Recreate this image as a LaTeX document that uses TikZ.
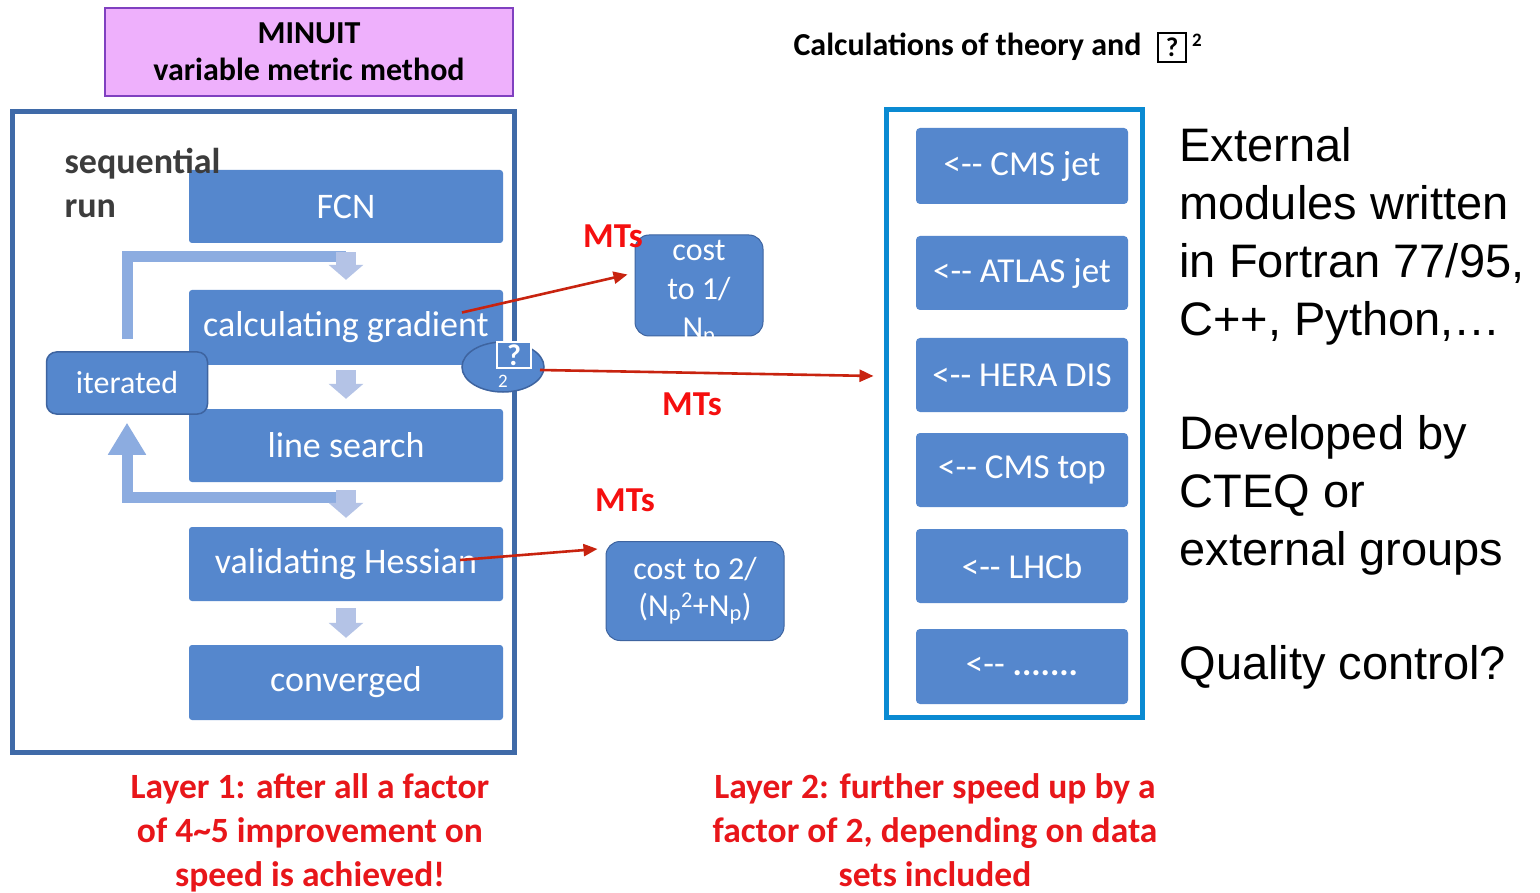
\documentclass[tikz,border=0pt]{standalone}
\usepackage{fontspec}
\setmainfont{Carlito}
\newfontfamily\arialfont{Liberation Sans}
\usetikzlibrary{arrows.meta,shapes.geometric}
\definecolor{boxblue}{RGB}{85,135,205}
\definecolor{boxedge}{RGB}{62,100,160}
\definecolor{frameblue}{RGB}{63,106,168}
\definecolor{rframec}{RGB}{10,138,210}
\definecolor{lav}{RGB}{180,195,230}
\definecolor{loopc}{RGB}{140,172,224}
\definecolor{darkred}{RGB}{200,35,15}
\definecolor{brightred}{RGB}{232,22,26}
\definecolor{mtred}{RGB}{245,15,15}
\definecolor{violetfill}{RGB}{238,176,252}
\definecolor{violetedge}{RGB}{128,64,192}
\definecolor{seqgray}{RGB}{60,60,60}
\newcommand\myfs[2]{\fontsize{#1}{#2}\selectfont}
\begin{document}
\begin{tikzpicture}[x=1pt,y=-1pt,
  mainbox/.style={fill=boxblue, rounded corners=3pt, minimum width=314pt, text=white, font=\myfs{36}{43}, inner sep=0pt},
  rbox/.style={fill=boxblue, rounded corners=4pt, minimum width=212pt, text=white, font=\myfs{35}{40}, inner sep=0pt},
  costbox/.style={fill=boxblue, draw=boxedge, line width=1pt, rounded corners=14pt, inner sep=0pt},
  fatarrow/.style={draw=lav, line width=20pt, -{Triangle[width=34pt,length=15pt]}},
  loopbar/.style={draw=loopc, line width=11pt},
  redarrow/.style={draw=darkred, line width=2.6pt, -{Triangle[width=12pt,length=14pt]}},
  mts/.style={text=mtred, font=\bfseries\myfs{35}{40}},
  layer/.style={text=brightred, font=\bfseries\myfs{35.5}{44}, align=center},
  side/.style={anchor=west, align=left, font=\arialfont\myfs{47}{58}}
]
\useasboundingbox (0,0) rectangle (1540,893);
\fill[white] (0,0) rectangle (1540,893);

% MINUIT box
\node[fill=violetfill, draw=violetedge, line width=1.5pt, minimum width=408pt, minimum height=88pt,
      align=center, font=\bfseries\myfs{32}{37}] (minuit) at (309,52) {MINUIT\\variable metric method};

% left frame
\node[draw=frameblue, line width=5pt, minimum width=502pt, minimum height=640pt, inner sep=0pt] (lframe) at (263,432) {};

% main boxes
\node[mainbox, minimum height=73pt] (fcn) at (346,206.5) {FCN};
\node[mainbox, minimum height=75pt] (calc) at (346,327.5) {calculating gradient};
\node[mainbox, minimum height=73pt] (line) at (346,445.5) {line search};
\node[mainbox, minimum height=74pt] (valid) at (346,564) {validating Hessian};
\node[mainbox, minimum height=75pt] (conv) at (346,682.5) {converged};

\node[anchor=west, align=left, text=seqgray, font=\bfseries\myfs{36}{44}] (seq) at (61,183) {sequential\\run};

% iterated box
\node[fill=boxblue, draw=boxedge, line width=1.5pt, rounded corners=10pt, minimum width=161pt,
      minimum height=62pt, text=white, font=\myfs{32}{38}, inner sep=0pt] (iter) at (127,383) {iterated};

% loop bars
\coordinate (ltop) at (346,257);
\coordinate (lbot) at (346,497);
\draw[loopbar] ([yshift=12pt]iter.north) |- (ltop);
\draw[loopbar, -{Triangle[width=36pt,length=32pt]}] (lbot) -| ([yshift=-8pt]iter.south);

% small down arrows
\draw[fatarrow] ([yshift=-9pt]fcn.south) -- ([yshift=10pt]calc.north);
\draw[fatarrow] ([yshift=-5pt]calc.south) -- ([yshift=10pt]line.north);
\draw[fatarrow] ([yshift=-8pt]line.south) -- ([yshift=9pt]valid.north);
\draw[fatarrow] ([yshift=-7pt]valid.south) -- ([yshift=7pt]conv.north);

% ellipse icon
\node[ellipse, fill=boxblue, draw=boxedge, line width=1.5pt, minimum width=82pt, minimum height=50pt] (qm) at (503,367) {};
\node[draw=white, line width=2pt, fill=boxblue, minimum width=34pt, minimum height=26pt, inner sep=0pt, text=white,
      font=\bfseries\myfs{30}{30}] (qbox) at (514,355.5) {?};
\node[text=white, font=\myfs{19}{20}, inner sep=0pt] (qtwo) at (503,381) {2};

% cost boxes
\node[costbox, minimum width=128pt, minimum height=101pt] (cost1) at (699,285.5) {};
\begin{scope}
\clip[rounded corners=14pt] (cost1.south west) rectangle (cost1.north east);
\node[text=white, font=\myfs{32}{39}, align=center] (cost1t) at (699,293) {cost\\to 1/\\N\textsubscript{p}};
\end{scope}
\node[costbox, minimum width=178pt, minimum height=99pt, text=white, font=\myfs{32}{37}, align=center]
   (cost2) at (695,591) {cost to 2/\\(N\textsubscript{p}\textsuperscript{2}+N\textsubscript{p})};

% right frame
\node[draw=rframec, line width=5pt, minimum width=256pt, minimum height=607pt, inner sep=0pt] (rframe) at (1014,413.5) {};
\node[rbox, minimum height=76pt] (r1) at (1022,166) {<-{}- CMS jet};
\node[rbox, minimum height=74pt] (r2) at (1022,273) {<-{}- ATLAS jet};
\node[rbox, minimum height=74pt] (r3) at (1022,375) {<-{}- HERA DIS};
\node[rbox, minimum height=74pt] (r4) at (1022,470) {<-{}- CMS top};
\node[rbox, minimum height=74pt] (r5) at (1022,566) {<-{}- LHCb};
\node[rbox, minimum height=75pt] (r6) at (1022,666.5) {<-{}- \textbf{.......}};

% red arrows
\draw[redarrow] ([shift={(116,-15)}]calc.center) -- ([shift={(-7,-11)}]cost1.west);
\draw[redarrow] ([shift={(37,3)}]qm.center) -- ([shift={(-10,-37.5)}]rframe.west);
\draw[redarrow] ([shift={(114,-4)}]valid.center) -- ([shift={(-8,-42)}]cost2.west);

% MTs labels
\node[mts] (mt1) at (613,236) {MTs};
\node[mts] (mt2) at (692,404) {MTs};
\node[mts] (mt3) at (625,500) {MTs};

% title
\node[anchor=west, font=\bfseries\myfs{32}{37}] (title) at (790,47) {Calculations of theory and};
\node[draw, line width=2.2pt, minimum width=28pt, minimum height=29pt, inner sep=0pt,
      font=\bfseries\myfs{27}{28}] (qt) at (1172,47.5) {?};
\node[font=\bfseries\myfs{19}{20}, inner sep=0pt] (qt2) at (1197,40) {2};

% side text
\node[side] (ext) at (1176,236) {External\\modules written\\in Fortran 77/95,\\C++, Python,\dots};
\node[side] (dev) at (1176,495) {Developed by\\CTEQ or\\external groups};
\node[side] (qc) at (1176,667) {Quality control?};

% layer texts
\node[layer] (lay1) at (310,832.5) {Layer 1: after all a factor\\of 4\textasciitilde5 improvement on\\speed is achieved!};
\node[layer] (lay2) at (935,830) {Layer 2: further speed up by a\\factor of 2, depending on data\\sets included};
\end{tikzpicture}
\end{document}
